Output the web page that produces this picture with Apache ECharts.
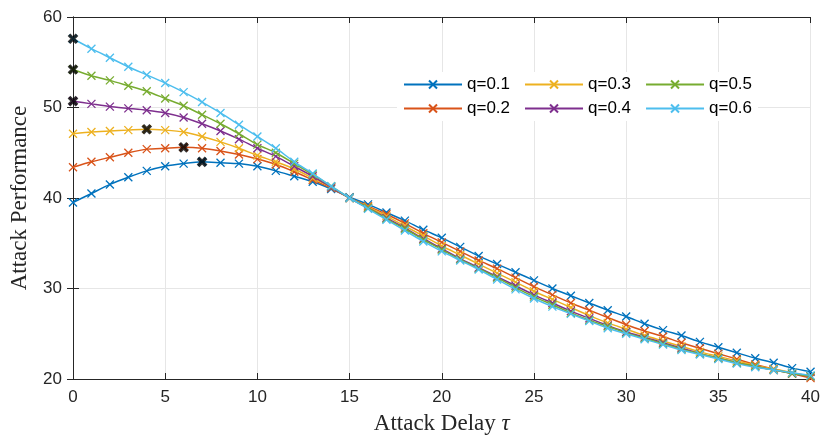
<!DOCTYPE html>
<html>
<head>
<meta charset="utf-8">
<script src="https://cdn.jsdelivr.net/npm/echarts@6/dist/echarts.min.js"></script>
<style>
html,body{margin:0;padding:0;background:#fff;}
#main{width:823px;height:440px;}
</style>
</head>
<body>
<div id="main"></div>
<script>
// attack delay tau = 0..40
var delays = [];
for (var t = 0; t <= 40; t++) delays.push(t);

var names = ['q=0.1', 'q=0.2', 'q=0.3', 'q=0.4', 'q=0.5', 'q=0.6'];
var colors = ['#0072BD', '#D95319', '#EDB120', '#7E2F8E', '#77AC30', '#4DBEEE'];

var q1 = [39.5, 40.5, 41.5, 42.3, 43.0, 43.5, 43.8, 44.0, 43.9, 43.8, 43.5, 43.0, 42.4, 41.8, 41.0, 40.1,
  39.3, 38.4, 37.5, 36.5, 35.6, 34.6, 33.6, 32.7, 31.8, 30.9, 30.0, 29.2, 28.4, 27.6, 26.9,
  26.1, 25.4, 24.8, 24.1, 23.5, 22.9, 22.3, 21.8, 21.2, 20.8];
var q2 = [43.4, 44.0, 44.5, 45.0, 45.4, 45.5, 45.6, 45.5, 45.2, 44.8, 44.3, 43.7, 42.9, 42.0, 41.1, 40.0,
  39.1, 38.2, 37.2, 36.1, 35.1, 34.1, 33.1, 32.2, 31.2, 30.2, 29.3, 28.4, 27.6, 26.8, 26.0,
  25.3, 24.7, 24.0, 23.4, 22.8, 22.2, 21.6, 21.1, 20.6, 20.1];
var q3 = [47.1, 47.3, 47.4, 47.5, 47.6, 47.5, 47.3, 46.8, 46.2, 45.5, 44.7, 44.0, 43.2, 42.2, 41.2, 40.0,
  39.0, 38.0, 36.9, 35.8, 34.7, 33.7, 32.7, 31.7, 30.7, 29.7, 28.8, 27.9, 27.0, 26.2, 25.5,
  24.8, 24.2, 23.6, 23.0, 22.5, 22.0, 21.5, 21.1, 20.7, 20.3];
var q4 = [50.7, 50.4, 50.1, 49.9, 49.7, 49.4, 48.9, 48.2, 47.4, 46.5, 45.5, 44.6, 43.5, 42.4, 41.2, 40.0,
  38.9, 37.8, 36.7, 35.5, 34.4, 33.3, 32.3, 31.3, 30.3, 29.3, 28.4, 27.5, 26.7, 25.9, 25.2,
  24.6, 24.0, 23.4, 22.8, 22.3, 21.8, 21.4, 21.0, 20.6, 20.3];
var q5 = [54.2, 53.5, 53.0, 52.4, 51.8, 51.0, 50.2, 49.2, 48.2, 47.1, 45.9, 45.0, 43.8, 42.6, 41.3, 40.0,
  38.9, 37.7, 36.6, 35.4, 34.3, 33.2, 32.2, 31.2, 30.1, 29.1, 28.2, 27.3, 26.5, 25.8, 25.1,
  24.5, 23.9, 23.3, 22.8, 22.3, 21.8, 21.4, 21.0, 20.6, 20.3];
var q6 = [57.6, 56.5, 55.5, 54.5, 53.6, 52.7, 51.7, 50.6, 49.4, 48.1, 46.8, 45.5, 44.0, 42.7, 41.3, 40.0,
  38.8, 37.6, 36.4, 35.2, 34.1, 33.1, 32.1, 31.0, 29.9, 28.9, 28.0, 27.2, 26.4, 25.6, 25.0,
  24.4, 23.8, 23.2, 22.7, 22.2, 21.7, 21.3, 21.0, 20.7, 20.4];

var xTicks = [0, 5, 10, 15, 20, 25, 30, 35, 40];
var yTicks = [20, 30, 40, 50, 60];

var allData = [q1, q2, q3, q4, q5, q6];
var X_PATH = 'path://M0,0L10,10M10,0L0,10';
var axisColor = '#262626';
var sansFont = 'Liberation Sans, Arial, sans-serif';
var serifFont = 'Liberation Serif, Times New Roman, serif';

function pairs(arr) {
  var out = [];
  for (var i = 0; i < arr.length; i++) out.push([delays[i], arr[i]]);
  return out;
}

// maximum point of each curve
var peaks = [];
for (var s = 0; s < allData.length; s++) {
  var best = 0;
  for (var i = 1; i < allData[s].length; i++) {
    if (allData[s][i] > allData[s][best]) best = i;
  }
  peaks.push([delays[best], allData[s][best]]);
}

var series = [];
for (var k = 0; k < allData.length; k++) {
  series.push({
    name: names[k],
    type: 'line',
    data: pairs(allData[k]),
    symbol: X_PATH,
    symbolSize: 8,
    showAllSymbol: true,
    smooth: 0.2,
    lineStyle: {color: colors[k], width: 1.5},
    itemStyle: {color: colors[k], borderColor: colors[k], borderWidth: 1.3},
    emphasis: {disabled: true},
    z: 3 + k
  });
}
series.push({
  name: 'peak',
  type: 'scatter',
  data: peaks,
  symbol: X_PATH,
  symbolSize: 8,
  itemStyle: {color: '#000', borderColor: '#000', borderWidth: 3.8},
  emphasis: {disabled: true},
  z: 20
});

var tickLabel = {show: true, color: axisColor, fontFamily: sansFont, fontSize: 17};

var legendCommon = {
  orient: 'horizontal',
  itemWidth: 58,
  itemHeight: 10,
  itemGap: 14,
  textStyle: {color: '#000', fontFamily: sansFont, fontSize: 17},
  backgroundColor: '#fff',
  padding: [4, 6, 4, 6],
  selectedMode: false
};

var myChart = echarts.init(document.getElementById('main'), null, {renderer: 'canvas'});

var option = {
  backgroundColor: '#fff',
  animation: false,
  grid: {left: 68, right: 11, top: 17, bottom: 61, containLabel: false},
  legend: [
    Object.assign({}, legendCommon, {left: 397, top: 72, data: [names[0], names[2], names[4]]}),
    Object.assign({}, legendCommon, {left: 397, top: 96, data: [names[1], names[3], names[5]]})
  ],
  xAxis: [{
    type: 'value', min: 0, max: 40, interval: 5,
    name: 'Attack Delay {i|τ}',
    nameLocation: 'middle', nameGap: 33,
    nameTextStyle: {
      color: axisColor, fontFamily: serifFont, fontSize: 23,
      rich: {i: {fontStyle: 'italic', fontFamily: serifFont, fontSize: 23, color: axisColor}}
    },
    axisLine: {show: true, lineStyle: {color: axisColor, width: 1}},
    axisTick: {show: true, inside: true, length: 6, lineStyle: {color: axisColor}},
    axisLabel: Object.assign({margin: 10, customValues: xTicks}, tickLabel),
    splitLine: {show: true, lineStyle: {color: '#e6e6e6', width: 1}}
  }, {
    type: 'value', position: 'top', min: 0, max: 40, interval: 5,
    axisLine: {show: true, lineStyle: {color: axisColor, width: 1}},
    axisTick: {show: true, inside: true, length: 6, lineStyle: {color: axisColor}},
    axisLabel: {show: false},
    splitLine: {show: false}
  }],
  yAxis: [{
    type: 'value', min: 20, max: 60, interval: 10,
    name: 'Attack Performance',
    nameLocation: 'middle', nameGap: 42,
    nameTextStyle: {color: axisColor, fontFamily: serifFont, fontSize: 23},
    axisLine: {show: true, lineStyle: {color: axisColor, width: 1}},
    axisTick: {show: true, inside: true, length: 6, lineStyle: {color: axisColor}},
    axisLabel: Object.assign({margin: 11, customValues: yTicks}, tickLabel),
    splitLine: {show: true, lineStyle: {color: '#e6e6e6', width: 1}}
  }, {
    type: 'value', position: 'right', min: 20, max: 60, interval: 10,
    axisLine: {show: true, lineStyle: {color: axisColor, width: 1}},
    axisTick: {show: true, inside: true, length: 6, lineStyle: {color: axisColor}},
    axisLabel: {show: false},
    splitLine: {show: false}
  }],
  series: series
};

myChart.setOption(option);
</script>
</body>
</html>
